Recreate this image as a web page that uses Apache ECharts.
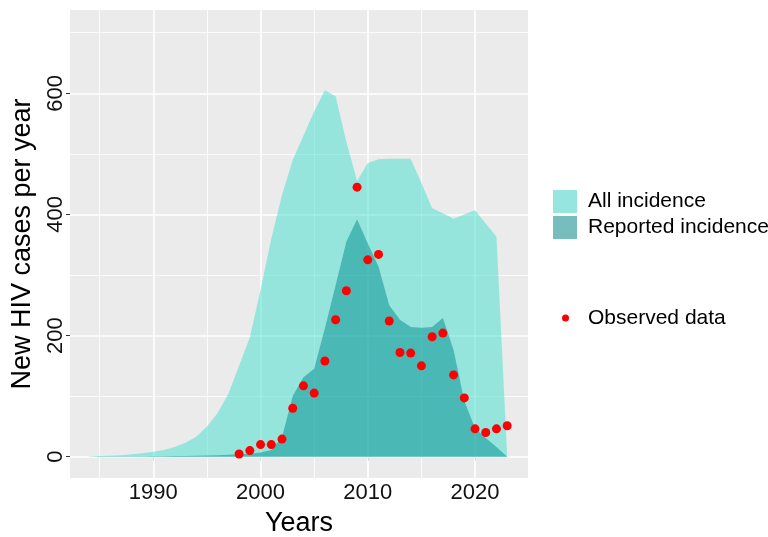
<!DOCTYPE html>
<html>
<head>
<meta charset="utf-8">
<script src="https://cdn.jsdelivr.net/npm/echarts@6/dist/echarts.min.js"></script>
<style>
  html, body { margin: 0; padding: 0; background: #fff; }
  #chart { width: 768px; height: 537px; }
</style>
</head>
<body>
<div id="chart"></div>
<script>
// ---- data ----
const years = [1984,1985,1986,1987,1988,1989,1990,1991,1992,1993,1994,1995,1996,1997,1998,1999,
  2000,2001,2002,2003,2004,2005,2006,2007,2008,2009,2010,2011,2012,2013,2014,2015,2016,2017,2018,2019,
  2020,2021,2022,2023];
const allIncidence = [0.5,1,1.5,2.5,4,5.5,8,11,16,23,33,50,72,104,150,197,
  275,360,432,490,530,570,605,595,520,455,485,491,492,492,492,452,410,402,393,400,
  407,385,363,0];
const reportedIncidence = [0,0.1,0.2,0.3,0.4,0.5,0.6,0.8,1,1.2,1.5,2,2.5,3,4,5,
  7,11,32,100,131,145,212,283,355,392,352,314,250,226,214,213,214,229,176,92,
  47,31,16,0];
const obsYears = [1998,1999,2000,2001,2002,2003,2004,2005,2006,2007,2008,2009,2010,2011,2012,2013,
  2014,2015,2016,2017,2018,2019,2020,2021,2022,2023];
const obsValues = [4.5,10,20,20,29,80,117,105,158,226,274,445,325,334,224,172,
  171,150,198,204,135,97,46,40,46,51];
const xTicks = [1990, 2000, 2010, 2020];
const xMinor = [1985, 1995, 2005, 2015];
const yTicks = [0, 200, 400, 600];
const yMinor = [100, 300, 500, 700];

const FONT = '"Liberation Sans", Arial, sans-serif';

const gridLines = []
  .concat(xMinor.map(v => ({ xAxis: v, lineStyle: { width: 0.8 } })))
  .concat(yMinor.map(v => ({ yAxis: v, lineStyle: { width: 0.8 } })))
  .concat(xTicks.map(v => ({ xAxis: v, lineStyle: { width: 1.6 } })))
  .concat(yTicks.map(v => ({ yAxis: v, lineStyle: { width: 1.6 } })));

const chart = echarts.init(document.getElementById('chart'), null, { renderer: 'canvas' });
chart.setOption({
  animation: false,
  backgroundColor: '#ffffff',
  textStyle: { fontFamily: FONT },
  grid: {
    left: 70, right: 240, top: 10, bottom: 59,
    show: true, backgroundColor: '#EBEBEB', borderWidth: 0,
    outerBoundsMode: 'none', containLabel: false
  },
  xAxis: {
    type: 'value', min: 1982.23, max: 2024.94,
    name: 'Years', nameLocation: 'middle', nameGap: 32,
    nameTextStyle: { fontSize: 27, color: '#000', fontFamily: FONT },
    axisLine: { show: false },
    axisTick: { show: true, customValues: xTicks, length: 4, lineStyle: { color: '#333', width: 1 } },
    axisLabel: { customValues: xTicks, formatter: v => String(v), fontSize: 22, color: '#111', margin: 4, fontFamily: FONT },
    splitLine: { show: false }
  },
  yAxis: {
    type: 'value', min: -35.2, max: 737.5,
    name: 'New HIV cases per year', nameLocation: 'middle', nameGap: 34,
    nameTextStyle: { fontSize: 27, color: '#000', fontFamily: FONT },
    axisLine: { show: false },
    axisTick: { show: true, customValues: yTicks, length: 4, lineStyle: { color: '#333', width: 1 } },
    axisLabel: { customValues: yTicks, formatter: v => String(v), rotate: 90, fontSize: 22, color: '#111', margin: 3, fontFamily: FONT },
    splitLine: { show: false }
  },
  legend: [
    {
      orient: 'vertical', left: 553, top: 190, padding: 0,
      itemWidth: 24, itemHeight: 23, itemGap: 3, selectedMode: false,
      textStyle: { fontSize: 21, color: '#000', fontFamily: FONT, padding: [0, 0, 0, 6] },
      data: [
        { name: 'All incidence', icon: 'rect', itemStyle: { color: '#96E5DE', borderWidth: 0 } },
        { name: 'Reported incidence', icon: 'rect', itemStyle: { color: '#77BDBE', borderWidth: 0 } }
      ]
    },
    {
      orient: 'vertical', left: 562, top: 307.5, padding: 0,
      itemWidth: 7, itemHeight: 7, selectedMode: false,
      textStyle: { fontSize: 21, color: '#000', fontFamily: FONT, padding: [0, 0, 0, 14] },
      data: [
        { name: 'Observed data', icon: 'circle', itemStyle: { color: '#FF0000', borderWidth: 0 } }
      ]
    }
  ],
  series: [
    {
      name: 'grid', type: 'line', data: [], z: 1, silent: true,
      markLine: {
        silent: true, z: 1, symbol: ['none', 'none'], animation: false,
        label: { show: false },
        lineStyle: { color: '#FFFFFF', type: 'solid' },
        emphasis: { disabled: true },
        data: gridLines
      }
    },
    {
      name: 'All incidence', type: 'line', z: 2,
      data: years.map((y, i) => [y, allIncidence[i]]),
      showSymbol: false, symbol: 'none', smooth: false,
      color: 'rgba(64,224,208,0.5)',
      lineStyle: { width: 0, opacity: 0 },
      areaStyle: { color: 'rgba(64,224,208,0.5)', opacity: 1 }
    },
    {
      name: 'Reported incidence', type: 'line', z: 3,
      data: years.map((y, i) => [y, reportedIncidence[i]]),
      showSymbol: false, symbol: 'none', smooth: false,
      color: 'rgba(0,139,139,0.5)',
      lineStyle: { width: 0, opacity: 0 },
      areaStyle: { color: 'rgba(0,139,139,0.5)', opacity: 1 }
    },
    {
      name: 'Observed data', type: 'scatter', z: 4,
      data: obsYears.map((y, i) => [y, obsValues[i]]),
      symbol: 'circle', symbolSize: 9,
      itemStyle: { color: '#FF0000', opacity: 1 }
    }
  ]
});
</script>
</body>
</html>
